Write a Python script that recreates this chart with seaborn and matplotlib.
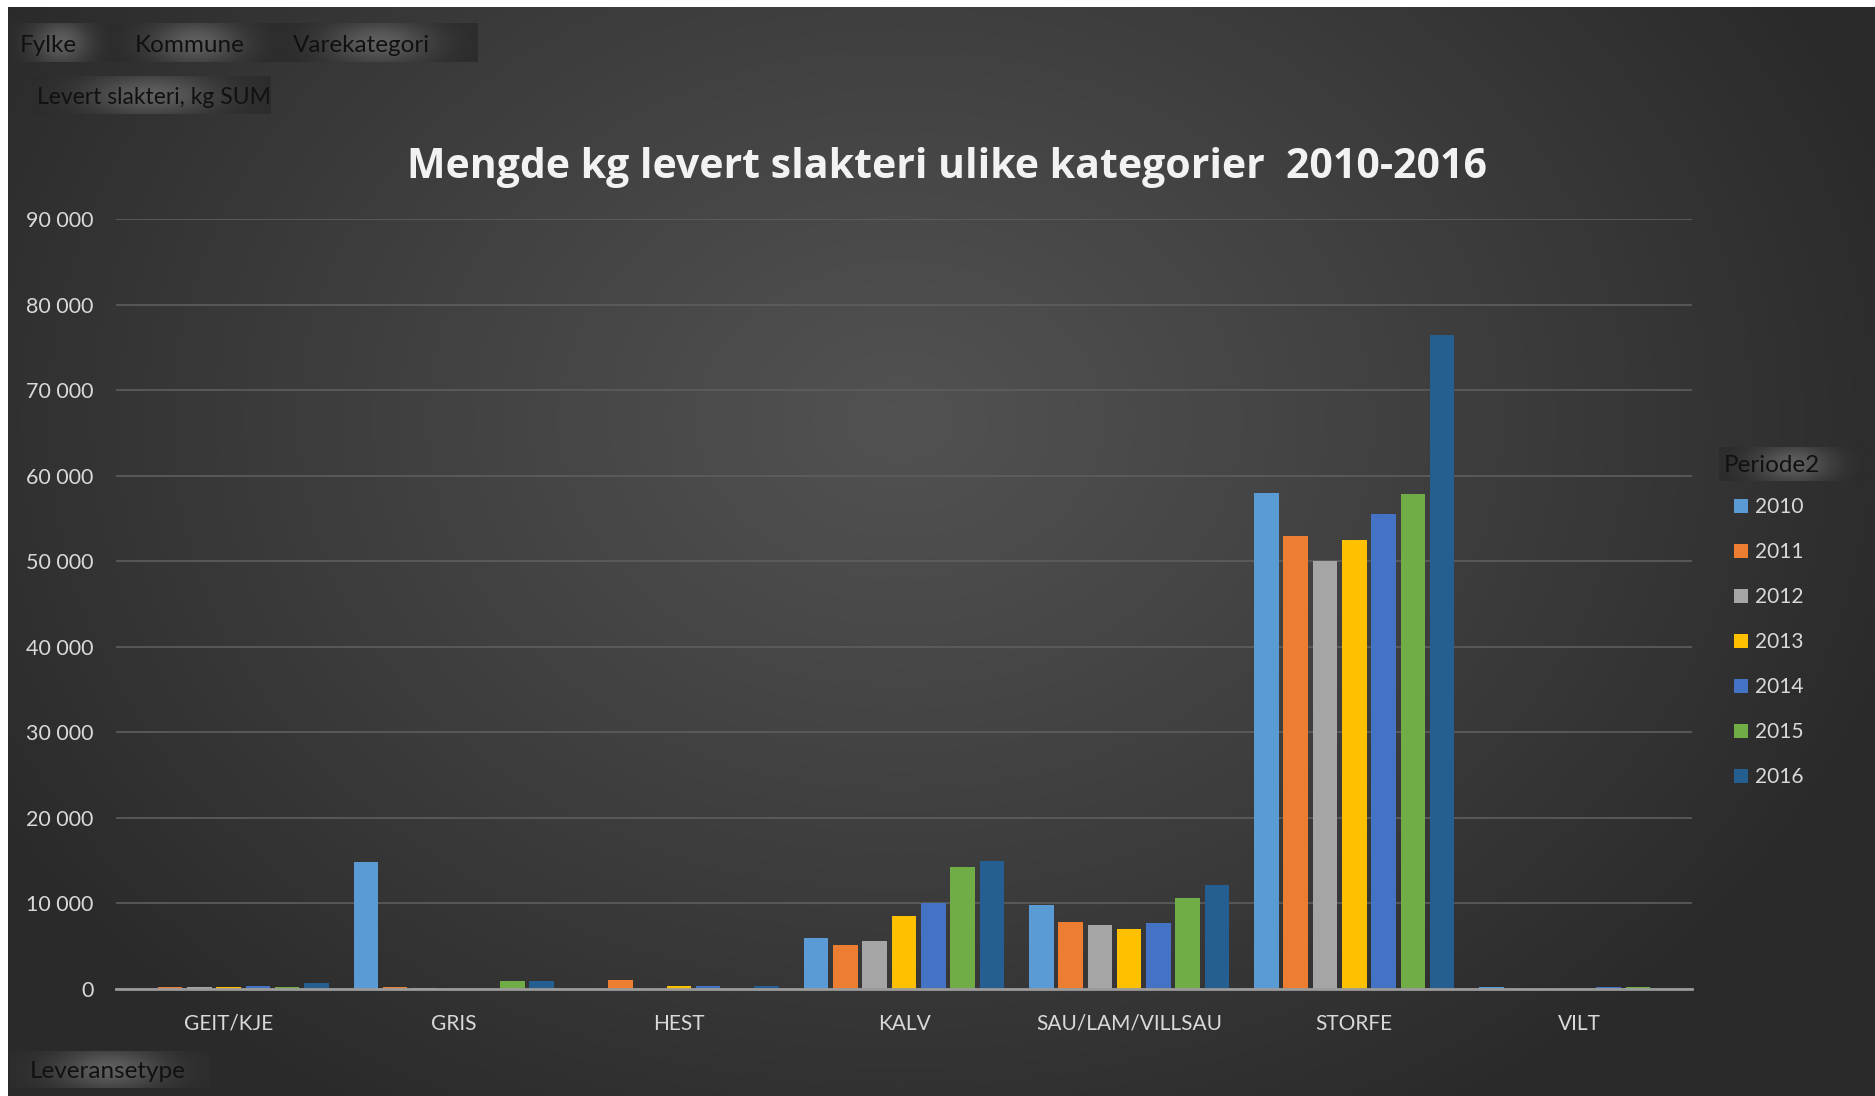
import numpy as np
import pandas as pd
import matplotlib
matplotlib.use("Agg")
import matplotlib.pyplot as plt
from matplotlib.patches import Patch
from matplotlib.ticker import FuncFormatter
import seaborn as sns

# data (kg)
categories = ["GEIT/KJE", "GRIS", "HEST", "KALV", "SAU/LAM/VILLSAU", "STORFE", "VILT"]
years = ["2010", "2011", "2012", "2013", "2014", "2015", "2016"]
kg_2010 = [0, 14900, 0, 6000, 9800, 58000, 220]
kg_2011 = [200, 200, 1050, 5200, 7800, 53000, 0]
kg_2012 = [200, 150, 0, 5600, 7500, 50000, 0]
kg_2013 = [200, 0, 400, 8500, 7000, 52500, 0]
kg_2014 = [350, 0, 350, 10100, 7700, 55500, 200]
kg_2015 = [200, 950, 0, 14300, 10600, 57900, 200]
kg_2016 = [650, 950, 300, 15000, 12200, 76500, 0]
year_colors = ["#5B9BD5", "#ED7D31", "#A5A5A5", "#FFC000", "#4472C4", "#70AD47", "#255E91"]

series = [kg_2010, kg_2011, kg_2012, kg_2013, kg_2014, kg_2015, kg_2016]
rows = []
for yr, vals in zip(years, series):
    for cat, v in zip(categories, vals):
        rows.append({"Leveransetype": cat, "Periode2": yr, "kg": v})
df = pd.DataFrame(rows)

W, H = 1875, 1096
font = ["Lato", "DejaVu Sans"]
plt.rcParams["font.family"] = font

fig = plt.figure(figsize=(W / 100, H / 100), dpi=100, facecolor="white")

# background: dark radial gradient, in pixel coordinates
bg = fig.add_axes([0, 0, 1, 1])
bg.set_xlim(0, W)
bg.set_ylim(H, 0)
bg.axis("off")
gx, gy = np.meshgrid(np.linspace(8, W, 600), np.linspace(7, H, 350))
d = np.sqrt(((gx - 900) / 1050) ** 2 + ((gy - 420) / 820) ** 2)
t = np.clip(d, 0, 1) ** 1.1
shade = 0.32 - t * (0.32 - 0.165)
img = np.dstack([shade, shade, shade])
bg.imshow(img, extent=(8, W, H, 7), aspect="auto", interpolation="bilinear")


def button(x0, x1, y0, y1):
    bx, by = np.meshgrid(np.linspace(-1, 1, 120), np.linspace(-1, 1, 30))
    v = 0.17 + 0.2 * np.exp(-(bx / 0.55) ** 2 - (by / 1.2) ** 2)
    bg.imshow(np.dstack([v, v, v]), extent=(x0, x1, y1, y0), aspect="auto",
              interpolation="bilinear", zorder=2)


button(10, 112, 23, 62)
button(112, 280, 23, 62)
button(280, 478, 23, 62)
button(32, 271, 76, 114)
button(10, 210, 1051, 1088)
button(1719, 1866, 447, 481)
btn_kw = dict(color="#111111", fontsize=17.5, va="center", ha="left", zorder=3)
bg.text(20, 45, "Fylke", **btn_kw)
bg.text(135, 45, "Kommune", **btn_kw)
bg.text(293, 45, "Varekategori", **btn_kw)
bg.text(37, 97, "Levert slakteri, kg SUM", **{**btn_kw, "fontsize": 16.5})
bg.text(30, 1071, "Leveransetype", **btn_kw)
bg.text(1724, 465, "Periode2", **btn_kw)

# main chart
ax = fig.add_axes([116 / W, 1 - 989 / H, (1692 - 116) / W, (989 - 219) / H])
ax.set_facecolor("none")
sns.barplot(data=df, x="Leveransetype", y="kg", hue="Periode2", order=categories,
            hue_order=years, palette=year_colors, width=0.91, gap=0.16,
            saturation=1, linewidth=0, legend=False, ax=ax, zorder=3)
ax.set_xlim(-0.5, len(categories) - 0.5)
ax.set_ylim(0, 90000)
ax.set_yticks(np.arange(0, 90001, 10000))
ax.yaxis.set_major_formatter(FuncFormatter(lambda v, p: f"{int(v):,}".replace(",", " ")))
ax.grid(axis="y", color="#5e5e5e", linewidth=1.2, zorder=0)
ax.set_axisbelow(True)
for s in ["top", "right", "left"]:
    ax.spines[s].set_visible(False)
ax.spines["bottom"].set_color("#9a9a9a")
ax.spines["bottom"].set_linewidth(2)
ax.spines["bottom"].set_zorder(4)
ax.tick_params(axis="both", length=0, colors="#d9d9d9", labelsize=15.5)
ax.tick_params(axis="x", pad=18, labelsize=15)
ax.tick_params(axis="y", pad=16)
ax.set_xlabel("")
ax.set_ylabel("")

fig.text(947 / W, 1 - 167 / H, "Mengde kg levert slakteri ulike kategorier  2010-2016",
         ha="center", va="center", color="#f2f2f2", fontsize=29.5, fontweight="bold",
         family=["Open Sans", "DejaVu Sans"])

handles = [Patch(facecolor=c, edgecolor="none") for c in year_colors]
ax.legend(handles, years, loc="upper left", bbox_to_anchor=(1734 / W, 1 - 497 / H),
          bbox_transform=fig.transFigure, frameon=False, borderpad=0, borderaxespad=0,
          fontsize=15, labelcolor="#d9d9d9", handlelength=0.67, handleheight=0.67,
          handletextpad=0.35, labelspacing=1.2)

fig.savefig("out.png", dpi=100, facecolor="white")
